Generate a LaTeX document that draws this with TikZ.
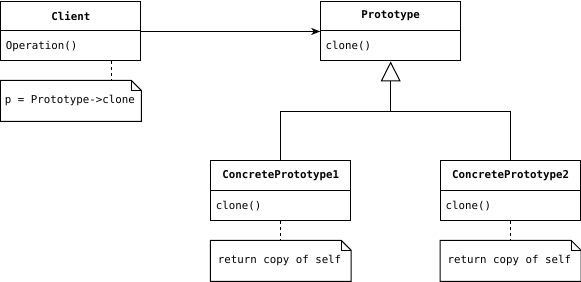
\documentclass[tikz,border=0pt]{standalone}
\usepackage{fontspec}
\setmainfont{DejaVu Sans Mono}
\usetikzlibrary{arrows.meta,calc}
\begin{document}
\begin{tikzpicture}[x=1pt,y=-1pt,
  line width=1pt,
  every node/.style={font=\fontsize{10.8}{12}\selectfont, inner sep=0pt},
  title/.style={draw, minimum width=140pt, minimum height=30pt, font=\fontsize{10.8}{12}\selectfont\bfseries, anchor=north west},
  body/.style={draw, minimum width=140pt, minimum height=30pt, anchor=north west},
  txt/.style={anchor=west},
  notebox/.style={minimum width=140pt, minimum height=40pt, anchor=north west},
  dashline/.style={dash pattern=on 3pt off 3pt}
]
\useasboundingbox (-0.5,-0.5) rectangle (581,281);
% Client
\node[title] (clientT) at (0,0) {Client};
\node[body] (clientB) at (0,30) {};
\node[txt] (clientOp) at (5,46) {Operation()};
% Prototype
\node[title] (protoT) at (320,0) {Prototype};
\node[body] (protoB) at (320,30) {};
\node[txt] (protoOp) at (325,46) {clone()};
% Concrete 1
\node[title] (cp1T) at (210,160) {ConcretePrototype1};
\node[body] (cp1B) at (210,190) {};
\node[txt] (cp1Op) at (215,206) {clone()};
% Concrete 2
\node[title] (cp2T) at (440,160) {ConcretePrototype2};
\node[body] (cp2B) at (440,190) {};
\node[txt] (cp2Op) at (445,206) {clone()};
% Notes
\newcommand{\notefold}[1]{%
  \draw ($(#1.north west)$) -- ($(#1.north east)+(-10,0)$) -- ($(#1.north east)+(0,10)$) -- (#1.south east) -- (#1.south west) -- cycle;
  \draw ($(#1.north east)+(-10,0)$) -- ($(#1.north east)+(-10,10)$) -- ($(#1.north east)+(0,10)$);}
\node[notebox] (note1) at (0,80) {};
\notefold{note1}
\node[txt] (note1t) at (4,100.5) {p = Prototype->clone};
\node[notebox] (note2) at (210,240) {};
\notefold{note2}
\node[txt] (note2t) at (217,260.5) {return copy of self};
\node[notebox] (note3) at (440,240) {};
\notefold{note3}
\node[txt] (note3t) at (447,260.5) {return copy of self};
% dashed links
\draw[dashline] ($(clientB.south east)+(-30,0)$) -- ($(note1.north east)+(-30,0)$);
\draw[dashline] (cp1B.south) -- (note2.north);
\draw[dashline] (cp2B.south) -- (note3.north);
% association
\draw[-{Stealth[length=9pt,width=7pt,inset=2.5pt]}] (clientT.south east) -- (protoT.south west);
% inheritance
\coordinate (join) at ($(protoB.south)+(0,50)$);
\draw (cp1T.north) |- (join) -| (cp2T.north);
\draw[-{Triangle[open,length=20pt,width=20pt]}] (join) -- (protoB.south);
\end{tikzpicture}
\end{document}
